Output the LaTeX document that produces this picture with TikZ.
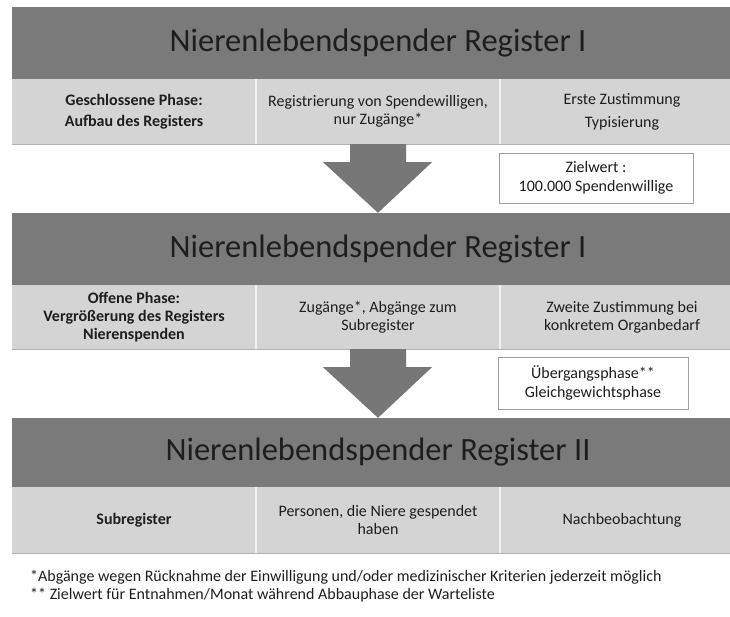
\documentclass[tikz,border=0pt]{standalone}
\usepackage{fontspec}
\setmainfont{Carlito}
\usetikzlibrary{calc}
\definecolor{hdrgray}{HTML}{7A7A7A}
\definecolor{rowgray}{HTML}{D4D4D4}
\definecolor{arrgray}{HTML}{777777}
\definecolor{inkgray}{HTML}{1E1E1E}
\begin{document}
\begin{tikzpicture}[x=1pt,y=-1pt,
 hdr/.style={fill=hdrgray, minimum width=732pt, inner sep=0pt, font=\fontsize{32.5}{38}\selectfont, text=inkgray},
 cell/.style={fill=rowgray, minimum width=244pt, inner sep=0pt, align=center, font=\fontsize{16}{18}\selectfont, text=inkgray},
 bcell/.style={cell, font=\bfseries\fontsize{16}{18}\selectfont},
 note/.style={draw=gray!75, line width=0.8pt, fill=white, inner sep=0pt, align=center, font=\fontsize{16}{19}\selectfont, text=inkgray},
 bigarrow/.style={fill=arrgray},
 foot/.style={anchor=west, inner sep=0pt, font=\fontsize{16}{18}\selectfont, text=inkgray},
 divider/.style={draw=white!65!rowgray, line width=1.5pt},
 shade/.style={draw=gray!60, line width=1.2pt}
]
\useasboundingbox (0,0) rectangle (730,617);
\clip (0,0) rectangle (730,617);

% Block 1
\node[hdr, minimum height=72pt] (h1) at (378,43) {Nierenlebendspender Register I};
\node[bcell, minimum height=65pt] (c11) at (134,111.5) {Geschlossene Phase:\\[3pt]Aufbau des Registers};
\node[cell, minimum height=65pt] (c12) at (378,111.5) {Registrierung von Spendewilligen,\\nur Zugänge*};
\node[cell, minimum height=65pt] (c13) at (622,111.5) {Erste Zustimmung\\[5pt]Typisierung};
\draw[shade] (c11.south west) -- (c13.south east);
\draw[divider] (c11.north east) -- (c11.south east);
\draw[divider] (c12.north east) -- (c12.south east);

% Block 2
\node[hdr, minimum height=72pt] (h2) at (378,249) {Nierenlebendspender Register I};
\node[bcell, minimum height=64pt] (c21) at (134,317) {Offene Phase:\\Vergrößerung des Registers\\Nierenspenden};
\node[cell, minimum height=64pt] (c22) at (378,317) {Zugänge*, Abgänge zum\\Subregister};
\node[cell, minimum height=64pt] (c23) at (622,317) {Zweite Zustimmung bei\\konkretem Organbedarf};
\draw[shade] (c21.south west) -- (c23.south east);
\draw[divider] (c21.north east) -- (c21.south east);
\draw[divider] (c22.north east) -- (c22.south east);

% Block 3
\node[hdr, minimum height=69pt] (h3) at (378,452.5) {Nierenlebendspender Register II};
\node[bcell, minimum height=66pt] (c31) at (134,520) {Subregister};
\node[cell, minimum height=66pt] (c32) at (378,520) {Personen, die Niere gespendet\\haben};
\node[cell, minimum height=66pt] (c33) at (622,520) {Nachbeobachtung};
\draw[shade] (c31.south west) -- (c33.south east);
\draw[divider] (c31.north east) -- (c31.south east);
\draw[divider] (c32.north east) -- (c32.south east);

% Arrows
\fill[bigarrow] ($(c12.south)+(-28,0)$) -- ($(c12.south)+(28,0)$) -- ($(c12.south)+(28,18)$)
  -- ($(c12.south)+(54,18)$) -- (h2.north) -- ($(c12.south)+(-55,18)$) -- ($(c12.south)+(-28,18)$) -- cycle;
\fill[bigarrow] ($(c22.south)+(-28,0)$) -- ($(c22.south)+(28,0)$) -- ($(c22.south)+(28,18)$)
  -- ($(c22.south)+(54,18)$) -- (h3.north) -- ($(c22.south)+(-55,18)$) -- ($(c22.south)+(-28,18)$) -- cycle;

% Note boxes
\node[note, minimum width=194pt, minimum height=50pt] (z1) at (596,178) {Zielwert :\\100.000 Spendenwillige};
\node[note, minimum width=190pt, minimum height=52pt] (z2) at (593,383) {Übergangsphase**\\Gleichgewichtsphase};

% Footnotes
\node[foot] (f1) at (30,577) {*Abgänge wegen Rücknahme der Einwilligung und/oder medizinischer Kriterien jederzeit möglich};
\node[foot] (f2) at (30,595) {** Zielwert für Entnahmen/Monat während Abbauphase der Warteliste};
\end{tikzpicture}
\end{document}
